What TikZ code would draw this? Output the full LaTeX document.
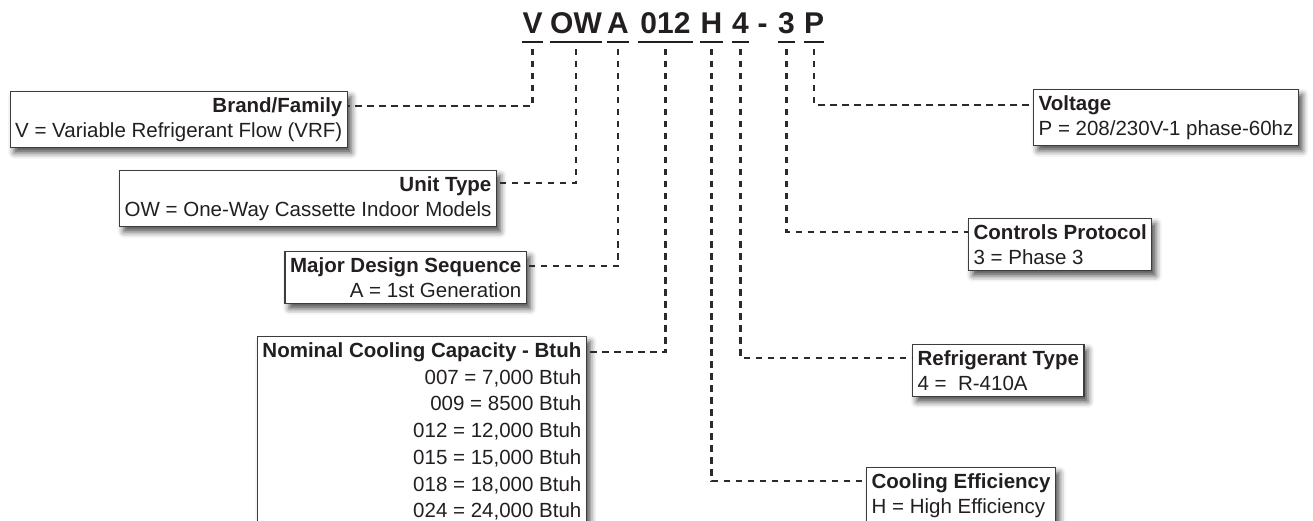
\documentclass[tikz,border=0pt]{standalone}
\usepackage{fontspec}
\setmainfont{Liberation Sans}
\usepackage{xcolor}
\usetikzlibrary{positioning,shadows.blur}
\definecolor{ink}{HTML}{231F20}
\definecolor{linkgray}{HTML}{2B2B2B}
\definecolor{framegray}{HTML}{3C3C3C}
\tikzset{
  codechar/.style={
    font=\fontsize{30}{30}\selectfont\bfseries, text=ink,
    inner xsep=0pt, inner ysep=0pt, text depth=0pt, anchor=base
  },
  uline/.style={draw=ink, line width=2.6pt},
  link/.style={
    draw=linkgray, line width=2.2pt, dash pattern=on 6.5pt off 5.5pt
  },
  infobox/.style={
    rectangle, draw=framegray, line width=1.3pt, fill=white, text=ink,
    font=\fontsize{20.5}{25}\selectfont, align=#1,
    inner xsep=5pt, inner ysep=6pt,
    blur shadow={shadow xshift=4pt, shadow yshift=-5pt,
                 shadow blur radius=6pt, shadow opacity=70}
  },
  infobox/.default=left,
  leftbox/.style={infobox=right, anchor=north east},
  rightbox/.style={infobox=left, anchor=north west},
}

\begin{document}
\begin{tikzpicture}[x=1pt, y=-1pt]
\useasboundingbox (0,0) rectangle (1313,521);

% model number
\node[codechar, minimum width=21pt] (cV)   at (532.5,34) {V};
\node[codechar, minimum width=50pt] (cOW)  at (576,34)   {OW};
\node[codechar, minimum width=20pt] (cA)   at (618,34)   {A};
\node[codechar, minimum width=55pt] (cCap) at (665.5,34) {012};
\node[codechar, minimum width=21pt] (cH)   at (711.5,34) {H};
\node[codechar, minimum width=17pt] (cRef) at (740.5,34) {4};
\node[codechar]                     (cDash) at (762.5,34) {-};
\node[codechar, minimum width=17pt] (cCtl) at (786.5,34) {3};
\node[codechar, minimum width=18pt] (cP)   at (814,34)   {P};
\foreach \n in {cV,cOW,cA,cCap,cH,cRef,cCtl,cP}
  \draw[uline] ([yshift=-8pt]\n.base west) -- ([yshift=-8pt]\n.base east);

% left side
\node[leftbox] (brand) at (348,91)
  {\textbf{Brand/Family}\\V = Variable Refrigerant Flow (VRF)};
\node[leftbox] (unit) at (497,170)
  {\textbf{Unit Type}\\OW = One-Way Cassette Indoor Models};
\node[leftbox] (design) at (527,251)
  {\textbf{Major Design Sequence}\\A = 1st Generation};
\node[leftbox, font=\fontsize{20.5}{26.7}\selectfont] (capacity) at (587,336)
  {\textbf{Nominal Cooling Capacity - Btuh}\\
   007 = 7,000 Btuh\\009 = 8500 Btuh\\012 = 12,000 Btuh\\
   015 = 15,000 Btuh\\018 = 18,000 Btuh\\024 = 24,000 Btuh};

% right side
\node[rightbox] (voltage) at (1033,89)
  {\textbf{Voltage}\\P = 208/230V-1 phase-60hz};
\node[rightbox] (controls) at (968,218)
  {\textbf{Controls Protocol}\\3 = Phase 3};
\node[rightbox] (refrig) at (912,344)
  {\textbf{Refrigerant Type}\\4 = \ R-410A};
\node[rightbox] (cooling) at (866,467)
  {\textbf{Cooling Efficiency}\\H = High Efficiency};

% leaders
\draw[link] ([yshift=-15pt]cV.base)   |- ([yshift=-15pt]brand.north east);
\draw[link] ([yshift=-15pt]cOW.base)  |- ([yshift=-13pt]unit.north east);
\draw[link] ([yshift=-15pt]cA.base)   |- ([yshift=-15pt]design.north east);
\draw[link] ([yshift=-15pt]cCap.base) |- ([yshift=-16pt]capacity.north east);
\draw[link] ([yshift=-15pt]cP.base)   |- ([yshift=-16pt]voltage.north west);
\draw[link] ([yshift=-15pt]cCtl.base) |- ([yshift=-14pt]controls.north west);
\draw[link] ([yshift=-15pt]cRef.base) |- ([yshift=-14pt]refrig.north west);
\draw[link] ([yshift=-15pt]cH.base)   |- ([yshift=-14pt]cooling.north west);
\end{tikzpicture}
\end{document}
